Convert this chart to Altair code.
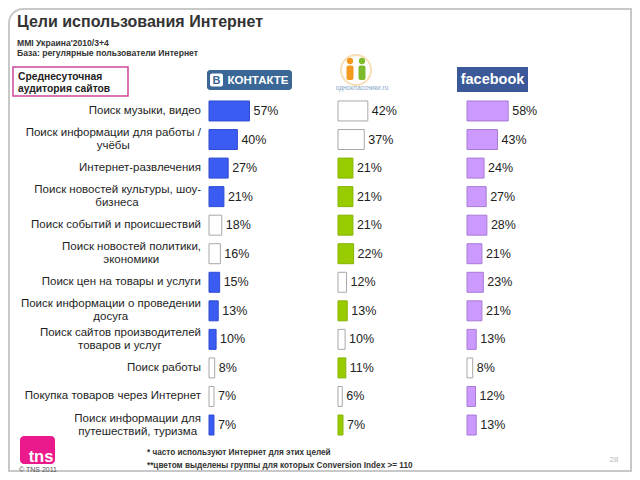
import altair as alt
import pandas as pd

# ---------------- data ----------------
categories = [
    "Поиск музыки, видео",
    "Поиск информации для работы /\nучёбы",
    "Интернет-развлечения",
    "Поиск новостей культуры, шоу-\nбизнеса",
    "Поиск событий и происшествий",
    "Поиск новостей политики,\nэкономики",
    "Поиск цен на товары и услуги",
    "Поиск информации о проведении\nдосуга",
    "Поиск сайтов производителей\nтоваров и услуг",
    "Поиск работы",
    "Покупка товаров через Интернет",
    "Поиск информации для\nпутешествий, туризма",
]
sites = ["ВКонтакте", "Одноклассники", "Facebook"]
vk_values = [57, 40, 27, 21, 18, 16, 15, 13, 10, 8, 7, 7]
vk_highlight = [1, 1, 1, 1, 0, 0, 1, 1, 1, 0, 0, 1]
ok_values = [42, 37, 21, 21, 21, 22, 12, 13, 10, 11, 6, 7]
ok_highlight = [0, 0, 1, 1, 1, 1, 0, 1, 0, 1, 0, 1]
fb_values = [58, 43, 24, 27, 28, 21, 23, 21, 13, 8, 12, 13]
fb_highlight = [1, 1, 1, 1, 1, 1, 1, 1, 1, 0, 1, 1]

title_text = "Цели использования Интернет"
subtitle_1 = "MMI Украина'2010/3+4"
subtitle_2 = "База: регулярные пользователи Интернет"
box_text = "Среднесуточная\nаудитория сайтов"
foot_1 = "* часто используют Интернет для этих целей"
foot_2 = "**цветом выделены группы для которых Conversion Index >= 110"
copyright_text = "© TNS 2011"
page_number = "28"

# ---------------- tables ----------------
rows = []
for site, vals, hl in [(sites[0], vk_values, vk_highlight),
                       (sites[1], ok_values, ok_highlight),
                       (sites[2], fb_values, fb_highlight)]:
    for c, v, h in zip(categories, vals, hl):
        rows.append({"site": site, "cat": c, "v": v, "h": h})
df = pd.DataFrame(rows)

FONT = "Liberation Sans"
LABEL_FS = 11.5
LABEL_RIGHT = 193

_w = {' ': .278, ',': .278, '.': .278, '/': .278, '-': .333,
      'а': .556, 'б': .573, 'в': .531, 'г': .365, 'д': .583, 'е': .556, 'ё': .556,
      'ж': .669, 'з': .458, 'и': .559, 'й': .559, 'к': .438, 'л': .583, 'м': .688,
      'н': .552, 'о': .556, 'п': .542, 'р': .556, 'с': .5, 'т': .458, 'у': .5,
      'ф': .823, 'х': .5, 'ц': .573, 'ч': .521, 'ш': .802, 'щ': .823, 'ы': .719,
      'ь': .521, 'э': .51, 'ю': .75, 'я': .542}


def est_width(s):
    return sum(_w.get(ch, .72) for ch in s) * LABEL_FS


lab_rows = []
for c in categories:
    parts = c.split("\n")
    two = len(parts) > 1
    lab_rows.append({
        "cat": c,
        "line1": parts[0],
        "line2": parts[1] if two else "",
        "two": two,
        "l2x": LABEL_RIGHT - est_width(parts[0]) / 2,
    })
labels = pd.DataFrame(lab_rows)

one = pd.DataFrame({"d": [0]})

# ---------------- scales ----------------
yscale = alt.Scale(domain=categories, range=[88.7, 431.3],
                   paddingInner=0.3, paddingOuter=0.15)
Y = alt.Y("cat:N", scale=yscale, axis=None)
PX100 = 71


def site_layers(site, start, color, edge):
    base = alt.Chart(df).transform_filter(alt.datum.site == site)
    xs = alt.Scale(domain=[0, 100], range=[start, start + PX100])
    X = alt.X("v:Q", scale=xs, axis=None)
    bars = base.mark_bar(strokeWidth=1).encode(
        x=X, y=Y,
        fill=alt.when(alt.datum.h == 1).then(alt.value(color)).otherwise(alt.value("white")),
        stroke=alt.when(alt.datum.h == 1).then(alt.value(edge)).otherwise(alt.value("#a8a8a8")),
    )
    txt = base.transform_calculate(lbl="datum.v + '%'").mark_text(
        align="left", baseline="middle", dx=4, fontSize=12.5, font=FONT, color="#222222"
    ).encode(x=X, y=Y, text="lbl:N")
    return [bars, txt]


layers = []

# slide border
layers.append(alt.Chart(one).mark_rect(
    fill="white", stroke="#c8c8c8", strokeWidth=2, cornerRadiusTopLeft=14
).encode(x=alt.value(1), x2=alt.value(623), y=alt.value(1), y2=alt.value(463)))

layers += site_layers(sites[0], 201, "#3b5cf2", "#2f4bd0")
layers += site_layers(sites[1], 330, "#99cc00", "#86b300")
layers += site_layers(sites[2], 459, "#cc99ff", "#a87ad6")

# category labels
lab = alt.Chart(labels)
layers.append(lab.transform_filter("!datum.two").mark_text(
    align="right", baseline="middle", fontSize=LABEL_FS, font=FONT, color="#1e1e1e"
).encode(x=alt.value(LABEL_RIGHT), y=Y, text="line1:N"))
layers.append(lab.transform_filter("datum.two").mark_text(
    align="right", baseline="middle", dy=-6.5, fontSize=LABEL_FS, font=FONT, color="#1e1e1e"
).encode(x=alt.value(LABEL_RIGHT), y=Y, text="line1:N"))
layers.append(lab.transform_filter("datum.two").mark_text(
    align="center", baseline="middle", dy=6.5, fontSize=LABEL_FS, font=FONT, color="#1e1e1e"
).encode(x=alt.X("l2x:Q", scale=None, axis=None), y=Y, text="line2:N"))

# title & subtitles
def txt(text, x, y, fs, color="#333333", weight="normal", align="left", baseline="alphabetic", font=FONT, **kw):
    return alt.Chart(one).mark_text(
        text=text, align=align, baseline=baseline, fontSize=fs, fontWeight=weight,
        color=color, font=font, **kw
    ).encode(x=alt.value(x), y=alt.value(y))


layers.append(txt(title_text, 9, 19, 16, "#333333", "bold"))
layers.append(txt(subtitle_1, 9, 38, 8.6, "#333333", "bold"))
layers.append(txt(subtitle_2, 9, 48, 8.6, "#333333", "bold"))

# "average daily audience" box
layers.append(alt.Chart(one).mark_rect(
    fill="white", stroke="#d0479a", strokeWidth=1.5
).encode(x=alt.value(5), x2=alt.value(120), y=alt.value(59), y2=alt.value(88)))
layers.append(txt(box_text, 10, 72, 10.3, "#222222", "bold", lineBreak="\n", lineHeight=12))

# VKontakte logo
layers.append(alt.Chart(one).mark_rect(fill="#3a6796", cornerRadius=3).encode(
    x=alt.value(199), x2=alt.value(284), y=alt.value(62), y2=alt.value(82)))
layers.append(alt.Chart(one).mark_rect(fill="white", cornerRadius=2).encode(
    x=alt.value(202), x2=alt.value(215), y=alt.value(65.5), y2=alt.value(78.5)))
layers.append(txt("В", 208.5, 72.5, 11, "#3a6796", "bold", align="center", baseline="middle"))
layers.append(txt("КОНТАКТЕ", 250, 72.5, 11.5, "white", "bold", align="center", baseline="middle"))

# Odnoklassniki logo (approximation)
layers.append(alt.Chart(one).mark_point(
    shape="circle", size=900, filled=False, stroke="#f6d29a", strokeWidth=2
).encode(x=alt.value(348), y=alt.value(62)))
layers.append(alt.Chart(one).mark_point(shape="circle", size=40, filled=True, color="#f39a1e", opacity=1).encode(
    x=alt.value(342), y=alt.value(53)))
layers.append(alt.Chart(one).mark_point(shape="circle", size=40, filled=True, color="#7dbb2d", opacity=1).encode(
    x=alt.value(354), y=alt.value(53)))
layers.append(alt.Chart(one).mark_rect(fill="#f39a1e", cornerRadius=2).encode(
    x=alt.value(338.5), x2=alt.value(345.5), y=alt.value(57.5), y2=alt.value(72)))
layers.append(alt.Chart(one).mark_rect(fill="#7dbb2d", cornerRadius=2).encode(
    x=alt.value(350.5), x2=alt.value(357.5), y=alt.value(57.5), y2=alt.value(72)))
layers.append(txt("одноклассники.ru", 354, 79.5, 6.5, "#86a6c8", "normal", align="center", baseline="middle"))

# Facebook logo
layers.append(alt.Chart(one).mark_rect(fill="#3b5998").encode(
    x=alt.value(449), x2=alt.value(520), y=alt.value(59), y2=alt.value(84)))
layers.append(txt("facebook", 484.5, 71.5, 14.5, "white", "bold", align="center", baseline="middle"))

# TNS logo
layers.append(alt.Chart(one).mark_rect(fill="#ea1a8c", cornerRadius=4).encode(
    x=alt.value(12), x2=alt.value(47), y=alt.value(428), y2=alt.value(456)))
layers.append(txt("tns", 33, 453.5, 16.5, "white", "bold", align="center"))
layers.append(txt(copyright_text, 11, 462, 7, "#555555", "normal", baseline="middle"))

# footnotes and page number
layers.append(txt(foot_1, 139, 445, 8.2, "#333333", "bold", baseline="middle"))
layers.append(txt(foot_2, 139, 457.5, 8.2, "#333333", "bold", baseline="middle"))
layers.append(txt(page_number, 606, 452, 8, "#b8b8b8", "normal", align="center", baseline="middle"))

chart = alt.layer(*layers).resolve_scale(x="independent").properties(
    width=624, height=464,
    autosize=alt.AutoSizeParams(type="none"),
    padding=0,
    background="white",
).configure_view(strokeWidth=0)

chart.save("out.html", embed_options={"renderer": "svg", "actions": False})
